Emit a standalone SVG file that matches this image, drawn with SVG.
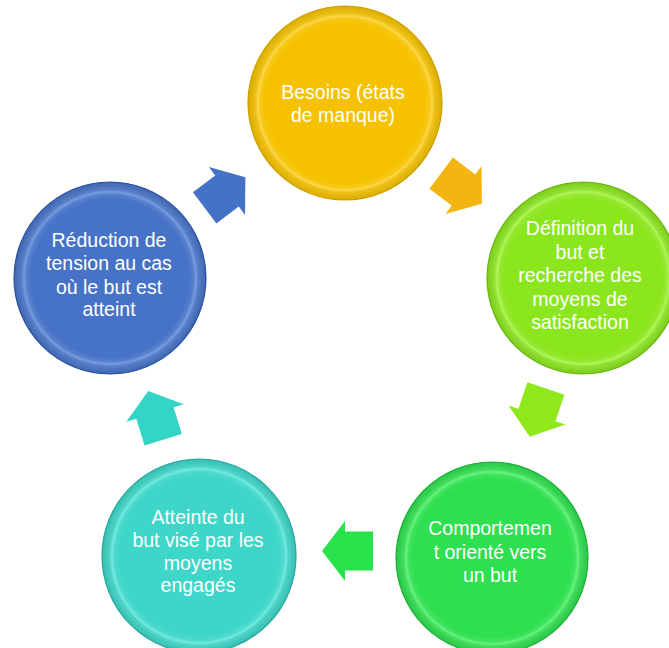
<svg xmlns="http://www.w3.org/2000/svg" width="669" height="648" viewBox="0 0 669 648">
<style>
  .lbl { font-family: "Liberation Sans", Arial, sans-serif; font-size: 19.5px; fill: #ffffff; text-anchor: middle; }
  .rim { fill: none; stroke-width: 3; stroke-opacity: 0.4; }
  .edge { stroke-width: 1.2; }
</style>
<defs>
  <polygon id="arr" points="-28,-19.5 0,-19.5 0,-30 23,0 0,30 0,19.5 -28,19.5"/>
  <radialGradient id="shade" cx="0.5" cy="0.5" r="0.5">
    <stop offset="0.82" stop-color="#ffffff" stop-opacity="0"/>
    <stop offset="0.9" stop-color="#ffffff" stop-opacity="0.15"/>
    <stop offset="1" stop-color="#000000" stop-opacity="0.1"/>
  </radialGradient>
</defs>
<rect width="669" height="648" fill="#ffffff"/>

<g id="connectors">
  <use href="#arr" transform="translate(463.5,190) rotate(37)" fill="#F3B512"/>
  <use href="#arr" transform="translate(537,415) rotate(108.5)" fill="#8EE81A"/>
  <use href="#arr" transform="translate(345,551) rotate(180)" fill="#27E24B"/>
  <use href="#arr" transform="translate(155,413) rotate(-107)" fill="#35D5C5"/>
  <use href="#arr" transform="translate(227,191) rotate(-37)" fill="#4472C4"/>
</g>

<g id="node-besoins">
  <circle cx="345" cy="103" r="97" fill="#F6C200" stroke="#D9A800" class="edge"/>
  <circle cx="345" cy="103" r="97" fill="url(#shade)"/>
  <circle cx="345" cy="103" r="87" class="rim" stroke="#FFE066"/>
  <text class="lbl" x="343" y="99">Besoins (états</text>
  <text class="lbl" x="343" y="122">de manque)</text>
</g>

<g id="node-definition">
  <circle cx="583" cy="278" r="96" fill="#8BE61E" stroke="#6FC010" class="edge"/>
  <circle cx="583" cy="278" r="96" fill="url(#shade)"/>
  <circle cx="583" cy="278" r="86" class="rim" stroke="#C4FF70"/>
  <text class="lbl" x="580" y="235">Définition du</text>
  <text class="lbl" x="580" y="258.5">but et</text>
  <text class="lbl" x="580" y="282">recherche des</text>
  <text class="lbl" x="580" y="305.5">moyens de</text>
  <text class="lbl" x="580" y="329">satisfaction</text>
</g>

<g id="node-comportement">
  <circle cx="492" cy="558" r="96" fill="#2EE04F" stroke="#1FB83A" class="edge"/>
  <circle cx="492" cy="558" r="96" fill="url(#shade)"/>
  <circle cx="492" cy="558" r="86" class="rim" stroke="#7CFF90"/>
  <text class="lbl" x="490" y="535">Comportemen</text>
  <text class="lbl" x="490" y="558.5">t orienté vers</text>
  <text class="lbl" x="490" y="582">un but</text>
</g>

<g id="node-atteinte">
  <circle cx="199" cy="556" r="97" fill="#3DD6C8" stroke="#28B0A4" class="edge"/>
  <circle cx="199" cy="556" r="97" fill="url(#shade)"/>
  <circle cx="199" cy="556" r="87" class="rim" stroke="#8AF5EC"/>
  <text class="lbl" x="198" y="524">Atteinte du</text>
  <text class="lbl" x="198" y="547">but visé par les</text>
  <text class="lbl" x="198" y="569.5">moyens</text>
  <text class="lbl" x="198" y="592">engagés</text>
</g>

<g id="node-reduction">
  <circle cx="110" cy="278" r="96" fill="#4673C8" stroke="#2F57A6" class="edge"/>
  <circle cx="110" cy="278" r="96" fill="url(#shade)"/>
  <circle cx="110" cy="278" r="86" class="rim" stroke="#88AEEE"/>
  <text class="lbl" x="109" y="247">Réduction de</text>
  <text class="lbl" x="109" y="270">tension au cas</text>
  <text class="lbl" x="109" y="293.5">où le but est</text>
  <text class="lbl" x="109" y="316">atteint</text>
</g>
</svg>
